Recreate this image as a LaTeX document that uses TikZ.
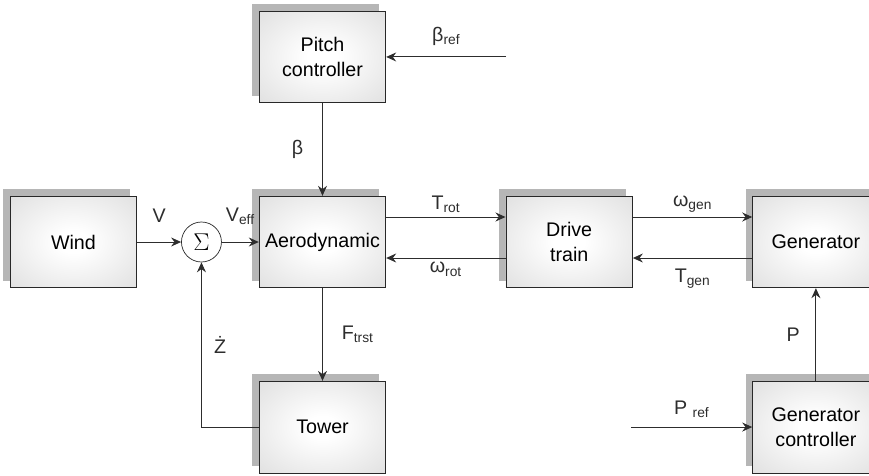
\documentclass[tikz,border=0pt]{standalone}
\usepackage{fontspec}
\setmainfont{Liberation Sans}
\usetikzlibrary{arrows.meta, positioning, shadows}
\definecolor{blkEdge}{RGB}{40,40,40}
\definecolor{blkShadow}{RGB}{182,182,182}
\definecolor{blkOuter}{RGB}{210,210,210}
\definecolor{lineCol}{RGB}{45,45,45}
\pgfdeclareradialshading{blkglow}{\pgfpoint{0bp}{0bp}}{color(0bp)=(white); color(6bp)=(white); color(50bp)=(blkOuter)}

\begin{document}
\begin{tikzpicture}[
    node distance=2.78cm and 3.58cm,
    block/.style={rectangle, draw=blkEdge, line width=0.6pt, shading=blkglow, minimum width=3.8cm, minimum height=2.75cm, align=center, font=\fontsize{16.8}{21.5}\selectfont, drop shadow={shadow xshift=-0.21cm, shadow yshift=0.21cm, fill=blkShadow, opacity=1}},
    sumnode/.style={circle, draw=blkEdge, line width=0.6pt, fill=white, minimum size=1.2cm, inner sep=0pt},
    arrow/.style={-{Stealth[length=3mm, width=2.7mm, inset=1mm]}, line width=0.8pt, lineCol},
    every node/.style={font=\fontsize{16.8}{20}\selectfont}
]

% Page frame
\useasboundingbox (-9.675,-6.99) rectangle (16.395,7.26);

% Central block
\node[block] (aero) at (0,0) {Aerodynamic};

% Blocks around it
\node[block, above=of aero] (pitch) {Pitch\\controller};
\node[block, below=of aero] (tower) {Tower};
\node[block, right=of aero] (drive) {Drive\\train};
\node[block, right=of drive] (gen) {Generator};
\node[block, below=of gen] (genctl) {Generator\\controller};

% Sum point and wind
\node[sumnode, left=1.11cm of aero] (sum) {\scalebox{1.2}{$\Sigma$}};
\node[block, left=1.32cm of sum] (wind) {Wind};

% Free ends of the reference inputs
\coordinate[right=3.6cm of pitch.east] (bref);
\coordinate[left=3.63cm of genctl.west] (pref);

% Arrows
\draw[arrow] (wind) -- node[above=0.45cm] {V} (sum);
\draw[arrow] (sum) -- node[above=0.4cm] {V\textsubscript{eff}} (aero);
\draw[arrow] (pitch) -- node[left=0.45cm] {β} (aero);
\draw[arrow] (bref) -- node[above=0.2cm] {β\textsubscript{ref}} (pitch.east);

\draw[arrow] ([yshift=0.75cm]aero.east) -- node[above] {T\textsubscript{rot}} ([yshift=0.75cm]drive.west);
\draw[arrow] ([yshift=-0.48cm]drive.west) -- node[below] {ω\textsubscript{rot}} ([yshift=-0.48cm]aero.east);
\draw[arrow] ([yshift=0.75cm]drive.east) -- node[above] {ω\textsubscript{gen}} ([yshift=0.75cm]gen.west);
\draw[arrow] ([yshift=-0.48cm]gen.west) -- node[below=0.2cm] {T\textsubscript{gen}} ([yshift=-0.48cm]drive.east);

\draw[arrow] (aero) -- node[right=0.45cm] {F\textsubscript{trst}} (tower);
\draw[arrow] (tower.west) -| node[pos=0.75, right=0.25cm] {Ż} (sum.south);

% Generator side
\draw[arrow] (genctl) -- node[left=0.35cm] {P} (gen);
\draw[arrow] (pref) -- node[above=0.15cm] {P~\textsubscript{ref}} (genctl.west);

\end{tikzpicture}
\end{document}
